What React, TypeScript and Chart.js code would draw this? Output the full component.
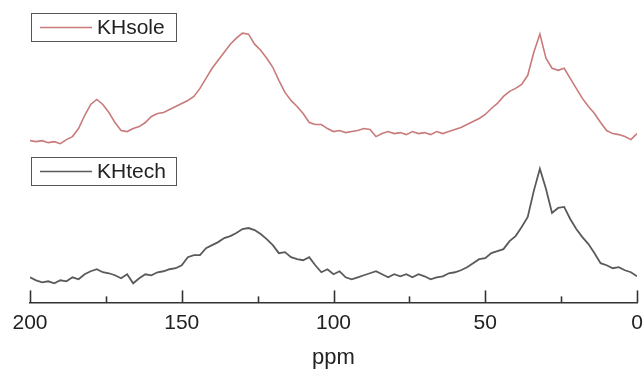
import React, { useEffect, useRef } from "react";
import { Chart, registerables } from "chart.js";

Chart.register(...registerables);

const ppm = [
  200, 198, 196, 194, 192, 190, 188, 186, 184, 182, 180, 178, 176, 174, 172, 170, 168, 166, 164, 162,
  160, 158, 156, 154, 152, 150, 148, 146, 144, 142, 140, 138, 136, 134, 132, 130, 128, 126, 124, 122,
  120, 118, 116, 114, 112, 110, 108, 106, 104, 102, 100, 98, 96, 94, 92, 90, 88, 86, 84, 82,
  80, 78, 76, 74, 72, 70, 68, 66, 64, 62, 60, 58, 56, 54, 52, 50, 48, 46, 44, 42,
  40, 38, 36, 34, 32, 30, 28, 26, 24, 22, 20, 18, 16, 14, 12, 10, 8, 6, 4, 2, 0,
];

// intensities (arbitrary units, curves stacked with offset)
const khsole = [
  161, 160, 161, 159, 160, 158, 162, 165, 173, 186, 197, 202, 197, 189, 179, 171, 170, 173, 175, 179,
  185, 188, 189, 192, 195, 198, 201, 205, 213, 223, 233, 241, 249, 257, 263, 268, 267, 257, 251, 243,
  234, 221, 209, 201, 195, 188, 179, 177, 177, 173, 170, 171, 169, 170, 171, 173, 172, 165, 168, 170,
  168, 169, 167, 170, 168, 169, 167, 170, 168, 170, 172, 174, 177, 180, 183, 187, 193, 198, 205, 210,
  213, 217, 226, 249, 267, 243, 233, 231, 233, 223, 213, 203, 195, 188, 179, 171, 168, 167, 165, 162, 168,
];

const khtech = [
  25, 22, 20, 21, 19, 22, 21, 25, 23, 28, 31, 33, 30, 29, 27, 24, 28, 19, 24, 28,
  27, 30, 31, 33, 34, 37, 45, 47, 47, 54, 57, 60, 64, 66, 69, 73, 74, 72, 68, 63,
  57, 49, 50, 45, 43, 42, 45, 37, 30, 33, 28, 31, 25, 23, 25, 27, 29, 31, 28, 25,
  28, 26, 28, 25, 28, 26, 23, 25, 26, 29, 30, 32, 35, 39, 43, 44, 49, 51, 53, 61,
  66, 75, 85, 111, 133, 113, 89, 94, 95, 83, 73, 65, 58, 49, 39, 37, 34, 35, 32, 30, 26,
];

const seriesLabels = ["KHsole", "KHtech"];
const seriesColors = ["#c97a7a", "#5a5a5a"];
const xTicksMajor = [200, 150, 100, 50, 0];
const xTitle = "ppm";

const FONT = "'Liberation Sans', Arial, sans-serif";

const insideTicks = {
  id: "insideTicks",
  afterDraw(chart: any) {
    const x = chart.scales.x;
    const ctx = chart.ctx;
    const bottom = chart.chartArea.bottom;
    ctx.save();
    ctx.strokeStyle = "#333";
    ctx.lineWidth = 1.6;
    x.ticks.forEach((t: any) => {
      const px = Math.round(x.getPixelForValue(t.value)) + 0.5;
      const major = xTicksMajor.includes(t.value);
      ctx.beginPath();
      ctx.moveTo(px, bottom);
      ctx.lineTo(px, bottom - (major ? 12 : 6));
      ctx.stroke();
    });
    ctx.restore();
  },
};

const boxLegends = {
  id: "boxLegends",
  afterDraw(chart: any) {
    const ctx = chart.ctx;
    const boxes = [
      { x: 31, y: 13 },
      { x: 31, y: 157 },
    ];
    ctx.save();
    chart.data.datasets.forEach((ds: any, i: number) => {
      const b = boxes[i];
      const w = 145;
      const h = 28;
      ctx.strokeStyle = "#555";
      ctx.lineWidth = 1;
      ctx.strokeRect(b.x + 0.5, b.y + 0.5, w, h);
      ctx.strokeStyle = ds.borderColor;
      ctx.lineWidth = 1.5;
      ctx.beginPath();
      ctx.moveTo(b.x + 9, b.y + h / 2 + 0.5);
      ctx.lineTo(b.x + 61, b.y + h / 2 + 0.5);
      ctx.stroke();
      ctx.fillStyle = "#222";
      ctx.font = `21px ${FONT}`;
      ctx.textBaseline = "middle";
      ctx.textAlign = "left";
      ctx.fillText(ds.label, b.x + 66, b.y + h / 2 + 1);
    });
    ctx.restore();
  },
};

export default function App() {
  const ref = useRef<HTMLCanvasElement>(null);
  useEffect(() => {
    document.body.style.margin = "0";
    const chart = new Chart(ref.current!, {
      type: "line",
      data: {
        datasets: [
          {
            label: seriesLabels[0],
            data: ppm.map((p, i) => ({ x: p, y: khsole[i] })),
            borderColor: seriesColors[0],
            borderWidth: 1.6,
            pointRadius: 0,
            tension: 0,
          },
          {
            label: seriesLabels[1],
            data: ppm.map((p, i) => ({ x: p, y: khtech[i] })),
            borderColor: seriesColors[1],
            borderWidth: 1.8,
            pointRadius: 0,
            tension: 0,
          },
        ],
      },
      options: {
        animation: false,
        responsive: false,
        maintainAspectRatio: false,
        layout: { padding: { left: 30, right: 6, top: 10, bottom: 4 } },
        plugins: { legend: { display: false }, tooltip: { enabled: false } },
        scales: {
          x: {
            type: "linear",
            reverse: true,
            min: 0,
            max: 200,
            grid: { display: false, drawTicks: false },
            border: { display: true, color: "#333", width: 1.6 },
            afterFit: (scale: any) => {
              scale.paddingLeft = 0;
              scale.paddingRight = 0;
            },
            ticks: {
              stepSize: 25,
              autoSkip: false,
              maxRotation: 0,
              padding: 8,
              color: "#222",
              font: { size: 21, family: FONT },
              callback: (v: any) => (xTicksMajor.includes(Number(v)) ? String(v) : ""),
            },
            title: {
              display: true,
              text: xTitle,
              color: "#222",
              font: { size: 22, family: FONT },
              padding: { top: 1, bottom: 0 },
            },
          },
          y: {
            display: false,
            min: 0,
            max: 291,
          },
        },
      },
      plugins: [insideTicks, boxLegends],
    });
    return () => chart.destroy();
  }, []);
  return (
    <div style={{ width: 643, height: 375, background: "#fff" }}>
      <canvas ref={ref} width={643} height={375} style={{ display: "block" }} />
    </div>
  );
}
